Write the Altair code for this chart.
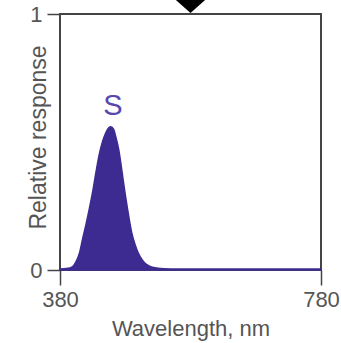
import altair as alt
import pandas as pd

# Spectral sensitivity of the S cone
wavelength = [380, 390, 395, 400, 405, 410, 415, 420, 425, 430, 435, 440, 445,
              450, 455, 458, 462, 466, 470, 475, 480, 485, 490, 495, 500, 505,
              510, 515, 520, 530, 540, 560, 600, 650, 700, 780]
response = [0.004, 0.006, 0.008, 0.015, 0.035, 0.068, 0.125, 0.18, 0.24, 0.305,
            0.38, 0.45, 0.50, 0.535, 0.556, 0.56, 0.55, 0.515, 0.47, 0.385,
            0.295, 0.215, 0.145, 0.10, 0.066, 0.043, 0.027, 0.018, 0.012,
            0.007, 0.005, 0.004, 0.004, 0.004, 0.004, 0.004]

x_ticks = [380, 780]
y_ticks = [0, 1]

label_text = ["S"]
label_wl = [461]
label_val = [0.605]

arrow_wl = [580]
arrow_val = [1]

FILL = "#3d2b91"
GRAY = "#444444"
TXT = "#555555"
FONT = "Liberation Sans"

curve = pd.DataFrame({"wl": wavelength, "r": response})
labels = pd.DataFrame({"wl": label_wl, "r": label_val, "t": label_text})
arrow = pd.DataFrame({"wl": arrow_wl, "r": arrow_val})

xscale = alt.Scale(domain=[380, 780], nice=False, zero=False)
yscale = alt.Scale(domain=[0, 1], nice=False)

xaxis = alt.Axis(values=x_ticks, format="d", tickSize=15, tickColor=GRAY, tickWidth=1.5,
                 labelFontSize=22, labelColor=TXT, labelFont=FONT, labelPadding=4,
                 domain=False, grid=False, title="Wavelength, nm",
                 titleFontSize=22, titleFont=FONT, titleFontWeight="normal",
                 titleColor=TXT, titlePadding=8, labelFlush=False)
yaxis = alt.Axis(values=y_ticks, format="d", tickSize=13, tickColor=GRAY, tickWidth=1.5,
                 labelFontSize=22, labelColor=TXT, labelFont=FONT, labelPadding=5,
                 domain=False, grid=False, title="Relative response",
                 titleFontSize=23, titleFont=FONT, titleFontWeight="normal",
                 titleColor=TXT, titleX=-15, titleY=123, titleAngle=-90,
                 titleBaseline="alphabetic", labelFlush=False)

area = alt.Chart(curve).mark_area(
    interpolate="monotone", color=FILL, stroke=FILL, strokeWidth=1.5
).encode(
    x=alt.X("wl:Q", scale=xscale, axis=xaxis),
    y=alt.Y("r:Q", scale=yscale, axis=yaxis),
)

text = alt.Chart(labels).mark_text(
    font=FONT, fontSize=29, color="#5847ad", baseline="alphabetic", align="center"
).encode(
    x=alt.X("wl:Q", scale=xscale),
    y=alt.Y("r:Q", scale=yscale),
    text="t:N",
)

tri = alt.Chart(arrow).mark_point(
    shape="M-1.125,-1 L1.125,-1 L0,0 Z", filled=True, color="#000000",
    opacity=1, size=1300, yOffset=-1, strokeWidth=0
).encode(
    x=alt.X("wl:Q", scale=xscale),
    y=alt.Y("r:Q", scale=yscale),
)

chart = alt.layer(area, text, tri).properties(
    width=261, height=256,
    autosize=alt.AutoSizeParams(type="none"),
    padding={"left": 60, "top": 14, "right": 20, "bottom": 73},
    background="white",
).configure_view(stroke=GRAY, strokeWidth=2)

chart.save("out.html", embed_options={"renderer": "svg", "actions": False})
